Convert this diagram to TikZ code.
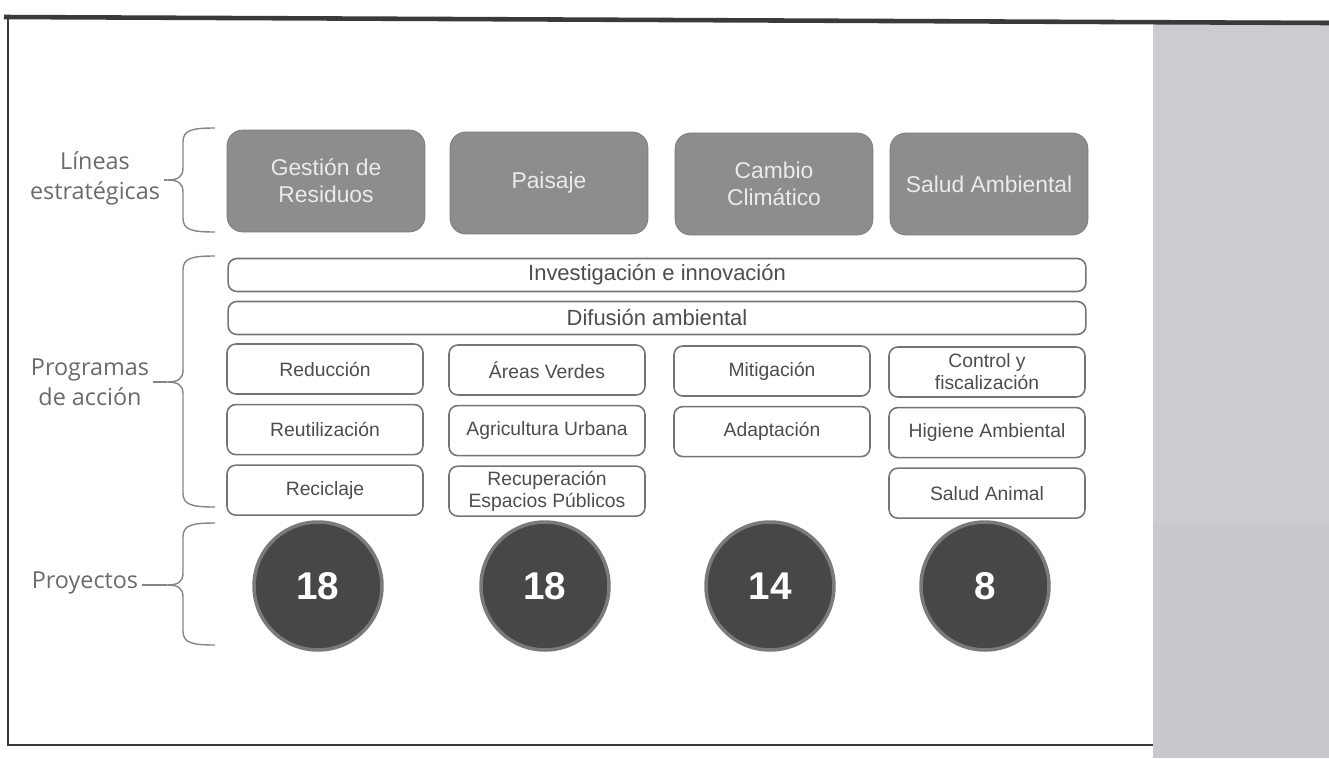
\documentclass[tikz,border=0pt]{standalone}
\usepackage{fontspec}
\setmainfont{Liberation Sans}
\newfontfamily\labfont{Open Sans}
\usetikzlibrary{positioning,calc}
\definecolor{boxgray}{HTML}{8D8D8D}
\definecolor{progdraw}{HTML}{747474}
\definecolor{txtgray}{HTML}{4D4D4D}
\definecolor{circgray}{HTML}{474747}
\definecolor{circedge}{HTML}{7A7A7A}
\definecolor{labgray}{HTML}{6A6A6A}
\definecolor{bracegray}{HTML}{858585}
\definecolor{panelup}{HTML}{CBCCCF}
\definecolor{paneldown}{HTML}{C8C9CC}
\definecolor{frame}{HTML}{3A3A3A}

\begin{document}
\begin{tikzpicture}
[x=0.02cm,y=-0.02cm,node distance=0.18cm,
every node/.style={inner sep=0pt},
linea/.style={rectangle,rounded corners=9pt,fill=boxgray,draw=boxgray!85!black,
  minimum width=3.96cm,minimum height=2.04cm,text=white!92!black,
  font=\fontsize{13}{15.5}\selectfont,align=center},
prog/.style={rectangle,rounded corners=5pt,draw=progdraw,line width=.9pt,fill=white,
  minimum width=3.92cm,minimum height=1cm,text=txtgray,
  font=\fontsize{11}{12.5}\selectfont,align=center},
barra/.style={prog,minimum width=17.16cm,minimum height=.66cm,
  font=\fontsize{12.5}{14}\selectfont},
proy/.style={circle,fill=circgray,draw=circedge,line width=2pt,minimum size=2.56cm,
  text=white,font=\fontsize{22}{24}\selectfont\bfseries},
lab/.style={text=labgray,inner sep=2pt,font=\labfont\fontsize{13.3}{17}\selectfont,align=center},
brc/.style={draw=bracegray,line width=.8pt}]
\useasboundingbox (0,0) rectangle (1329,758);
%%%%%%%%%%
%% frame and side panel
\fill[panelup] (1153,20) rectangle (1329,525);
\fill[paneldown] (1153,525) rectangle (1329,758);
\draw[frame,line width=2.6pt] (4,17) -- (1329,23);
\draw[frame,line width=1.2pt] (8,17) -- (8,745) -- (1153,745);
%% lineas estrategicas
\node[linea] (l1) at (326,181) {Gestión de\\Residuos};
\node[linea] (l2) at (549,183) {Paisaje};
\node[linea] (l3) at (774,184) {Cambio\\Climático};
\node[linea] (l4) at (989,184) {Salud Ambiental};
%% programas transversales
\node[barra] (inv) at (657,275) {Investigación e innovación};
\node[barra] (dif) at (657,318) {Difusión ambiental};
%% programas de accion
\node[prog] (red) at (325,369) {Reducción};
\node[prog,below=of red] (reu) {Reutilización};
\node[prog,below=of reu] (rec) {Reciclaje};
\node[prog] (are) at (547,370) {Áreas Verdes};
\node[prog,below=of are] (agr) {Agricultura Urbana};
\node[prog,below=of agr] (esp) {Recuperación\\Espacios Públicos};
\node[prog] (mit) at (772,371) {Mitigación};
\node[prog,below=of mit] (ada) {Adaptación};
\node[prog] (con) at (987,372) {Control y\\fiscalización};
\node[prog,below=of con] (hig) {Higiene Ambiental};
\node[prog,below=of hig] (san) {Salud Animal};
%% proyectos
\node[proy] (p1) at (318,586) {18};
\node[proy] (p2) at (545,586) {18};
\node[proy] (p3) at (770,586) {14};
\node[proy] (p4) at (985,586) {8};
%% headings
\node[lab] (lin) at (95,178) {Líneas\\estratégicas};
\node[lab] (pro) at (90,382) {Programas\\de acción};
\node[lab] (pry) at (85,583) {Proyectos};
%% braces
\foreach \yt/\ym/\yb/\n in {128/180/232/t1, 256/382/507/t2, 523/585/645/t3}{
  \coordinate (\n) at (167,\ym);
  \draw[brc] (215,\yt) .. controls (192,\yt) and (183,{\yt+2}) .. (183,{\yt+14})
    -- (183,{\ym-12}) .. controls (183,{\ym-3}) and (178,\ym) .. (\n)
    .. controls (178,\ym) and (183,{\ym+3}) .. (183,{\ym+12})
    -- (183,{\yb-14}) .. controls (183,{\yb-2}) and (192,\yb) .. (215,\yb);
}
\draw[brc] (lin.east |- t1) -- (t1);
\draw[brc] (pro.east |- t2) -- (t2);
\draw[brc] (pry.east |- t3) -- (t3);
\end{tikzpicture}
\end{document}
